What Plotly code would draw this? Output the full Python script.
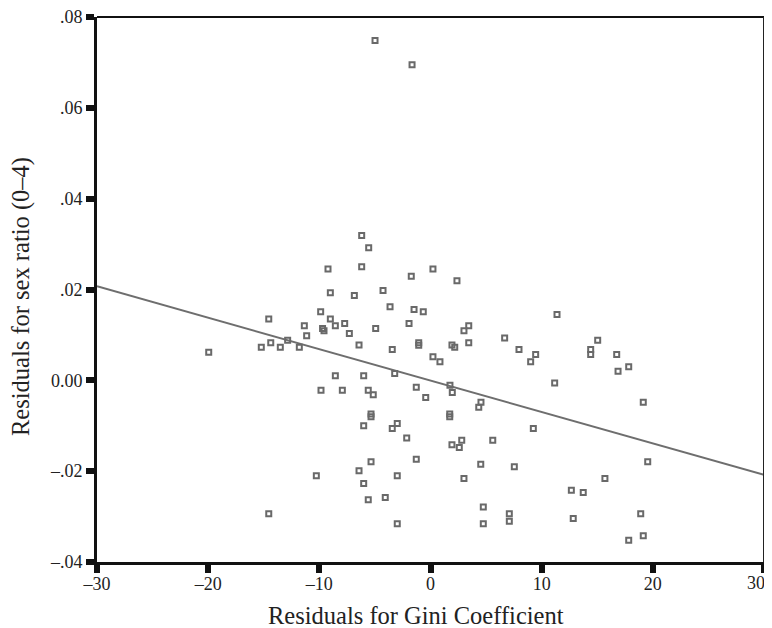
import plotly.graph_objects as go

gini_resid = [
    -4.99, -1.66, -6.19, -5.56, -9.22, -6.19, 0.22, -1.73, 2.38, -9.01,
    -6.85, -4.27, -3.64, -1.48, -0.65, -9.88, -14.55, -9.01, -7.72, -8.56,
    -11.35, -9.71, -9.58, -1.93, -4.93, -7.30, -11.14, -12.85, -14.37, -15.22,
    -13.51, -11.80, -6.43, -3.44, -1.06, -1.06, 0.22, 0.85, -8.56, -6.01,
    -3.22, -1.28, -19.95, -9.85, -7.93, -5.60, -5.15, -0.43, -5.35, -5.35,
    -6.01, -3.44, -2.99, -2.14, -1.28, -5.35, -6.43, -10.27, -2.99, -6.01,
    -5.60, -4.07, -14.55, -2.99, 11.38, 3.44, 3.01, 1.93, 2.18, 3.44,
    6.67, 7.96, 9.46, 9.01, 15.04, 14.41, 14.41, 16.75, 16.87, 1.75,
    11.17, 1.96, 4.54, 4.34, 1.73, 1.73, 9.25, 1.93, 2.81, 2.59,
    5.60, 4.52, 7.54, 3.01, 15.69, 12.67, 13.74, 4.75, 7.09, 7.09,
    4.75, 12.84, 17.83, 19.14, 19.54, 18.91, 19.14, 17.83,
]
sex_ratio_resid = [
    0.0748, 0.0695, 0.0319, 0.0292, 0.0245, 0.0250, 0.0245, 0.0229, 0.0219, 0.0193,
    0.0187, 0.0198, 0.0162, 0.0156, 0.0151, 0.0151, 0.0135, 0.0135, 0.0125, 0.0120,
    0.0120, 0.0114, 0.0109, 0.0125, 0.0114, 0.0103, 0.0098, 0.0088, 0.0083, 0.0073,
    0.0073, 0.0073, 0.0078, 0.0068, 0.0083, 0.0077, 0.0052, 0.0041, 0.0010, 0.0010,
    0.0015, -0.0015, 0.0062, -0.0022, -0.0022, -0.0022, -0.0032, -0.0038, -0.0074, -0.0080,
    -0.0100, -0.0106, -0.0095, -0.0127, -0.0174, -0.0179, -0.0199, -0.0210, -0.0210, -0.0227,
    -0.0263, -0.0258, -0.0294, -0.0316, 0.0145, 0.0120, 0.0109, 0.0078, 0.0073, 0.0083,
    0.0093, 0.0068, 0.0057, 0.0041, 0.0088, 0.0068, 0.0057, 0.0057, 0.0020, -0.0011,
    -0.0006, -0.0027, -0.0048, -0.0059, -0.0074, -0.0080, -0.0106, -0.0142, -0.0132, -0.0148,
    -0.0132, -0.0185, -0.0190, -0.0216, -0.0216, -0.0242, -0.0247, -0.0279, -0.0294, -0.0310,
    -0.0316, -0.0304, 0.0030, -0.0048, -0.0179, -0.0294, -0.0342, -0.0352,
]

fit_x = [-30, 30]
fit_y = [0.0207, -0.0208]

x_tickvals = [-30, -20, -10, 0, 10, 20, 30]
x_ticktext = ["\u201330", "\u201320", "\u201310", "0", "10", "20", "30"]
y_tickvals = [0.08, 0.06, 0.04, 0.02, 0.0, -0.02, -0.04]
y_ticktext = [".08", ".06", ".04", ".02", "0.00", "\u2013.02", "\u2013.04"]

x_title = "Residuals for Gini Coefficient"
y_title = "Residuals for sex ratio (0\u20134)"

FONT = "Liberation Serif, Times New Roman, serif"
TEXT = "#222222"

fig = go.Figure()
fig.add_trace(go.Scatter(
    x=fit_x, y=fit_y, mode="lines",
    line=dict(color="#6e6e6e", width=2),
    hoverinfo="skip", showlegend=False,
))
fig.add_trace(go.Scatter(
    x=gini_resid, y=sex_ratio_resid, mode="markers",
    marker=dict(symbol="square-open", size=5, color="#696969",
                line=dict(width=2, color="#696969")),
    showlegend=False,
))

axis_common = dict(
    showgrid=False, zeroline=False, automargin=False,
    showline=True, linecolor="#111111", linewidth=3,
    ticks="outside", ticklen=8, tickwidth=6, tickcolor="#111111",
    ticklabeloverflow="allow",
    tickfont=dict(size=18, family=FONT, color=TEXT),
)

# The last x tick label sits at the page edge; it is drawn as an annotation
# right-aligned so it is not clipped.
x_ticktext_axis = x_ticktext[:-1] + [""]

# The page body has an 8px default margin, so the figure is sized to fill the rest.
fig.update_layout(
    width=764, height=620,
    margin=dict(l=89, r=8, t=9, b=66),
    paper_bgcolor="white", plot_bgcolor="white",
    font=dict(family=FONT, color=TEXT, size=18),
    xaxis=dict(range=[-30, 30], tickvals=x_tickvals, ticktext=x_ticktext_axis,
               ticklabelstandoff=-5, **axis_common),
    yaxis=dict(range=[-0.04, 0.08], tickvals=y_tickvals, ticktext=y_ticktext, **axis_common),
    shapes=[
        dict(type="line", xref="paper", yref="paper", x0=0, x1=1, y0=1, y1=1,
             line=dict(color="#111111", width=2)),
        dict(type="line", xref="paper", yref="paper", x0=1, x1=1, y0=0, y1=1,
             line=dict(color="#222222", width=2)),
    ],
    annotations=[
        dict(text=x_ticktext[-1], xref="paper", yref="paper", x=1.005, y=-0.038,
             xanchor="right", yanchor="middle", showarrow=False,
             font=dict(size=18, family=FONT, color=TEXT)),
        dict(text=x_title, xref="paper", yref="paper", x=0.478, y=-0.099,
             xanchor="center", yanchor="middle", showarrow=False,
             font=dict(size=24.5, family=FONT, color=TEXT)),
        dict(text=y_title, xref="paper", yref="paper", x=-0.114, y=0.488,
             xanchor="center", yanchor="middle", showarrow=False, textangle=-90,
             font=dict(size=24.5, family=FONT, color=TEXT)),
    ],
)

fig.write_html("out.html")
